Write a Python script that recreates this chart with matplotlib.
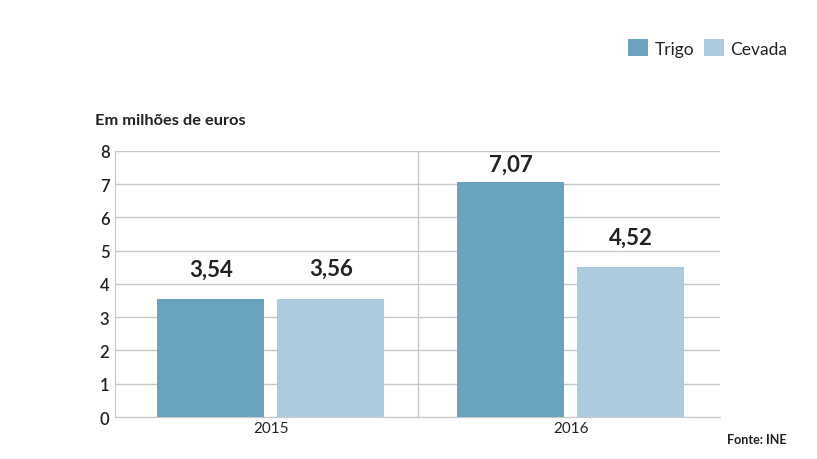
import matplotlib.pyplot as plt
import numpy as np

anos = ['2015', '2016']
trigo = [3.54, 7.07]
cevada = [3.56, 4.52]
series = ['Trigo', 'Cevada']
yticks = [0, 1, 2, 3, 4, 5, 6, 7, 8]

plt.rcParams['font.family'] = ['Lato', 'DejaVu Sans']

cor_trigo = '#6aa3bd'
cor_cevada = '#adcbdc'
cor_grelha = '#c8c8c8'
cor_texto = '#222222'

fig = plt.figure(figsize=(8.17, 4.6), dpi=100)
ax = fig.add_axes([0.1408, 0.0913, 0.7402, 0.5783])

x = np.arange(len(anos))
largura = 0.357
b1 = ax.bar(x - 0.2, trigo, largura, color=cor_trigo, label=series[0], zorder=3)
b2 = ax.bar(x + 0.2, cevada, largura, color=cor_cevada, label=series[1], zorder=3)

# rotulos acima das barras; o mais alto fica apertado contra o topo
for barras, vals in ((b1, trigo), (b2, cevada)):
    for barra, v in zip(barras, vals):
        desvio = 5 if v > 7 else 14
        ax.annotate(f'{v:.2f}'.replace('.', ','),
                    (barra.get_x() + barra.get_width() / 2, v),
                    xytext=(0, desvio), textcoords='offset points',
                    ha='center', va='bottom', fontsize=16, fontweight='bold',
                    color=cor_texto)

ax.set_xlim(-0.52, 1.497)
ax.set_ylim(0, 8)
ax.set_yticks(yticks)
ax.set_xticks(x)
ax.set_xticklabels(anos)
ax.tick_params(axis='y', length=0, pad=4, labelsize=12, labelcolor=cor_texto)
ax.tick_params(axis='x', length=0, pad=3, labelsize=11, labelcolor=cor_texto)
for lbl in ax.get_yticklabels():
    lbl.set_fontweight('semibold')
ax.grid(axis='y', color=cor_grelha, linewidth=1, zorder=0)
ax.axvline(0.49, color=cor_grelha, linewidth=1, zorder=0)

for lado in ('top', 'right'):
    ax.spines[lado].set_visible(False)
ax.spines['left'].set_color(cor_grelha)
ax.spines['bottom'].set_color(cor_grelha)

fig.text(95 / 817, 1 - 121 / 460, 'Em milhões de euros', fontsize=11.8, fontweight='bold',
         color=cor_texto, va='center', ha='left')
fig.text(787 / 817, 1 - 440 / 460, 'Fonte: INE', fontsize=9, fontweight='bold',
         color=cor_texto, va='center', ha='right')

fig.legend(handles=[b1, b2], loc='center right', bbox_to_anchor=(803 / 817, 1 - 49 / 460),
           ncol=2, frameon=False, fontsize=12.5, handlelength=1.15, handleheight=1.15,
           handletextpad=0.35, columnspacing=0.6, labelcolor=cor_texto)

fig.savefig('out.png', dpi=100)
